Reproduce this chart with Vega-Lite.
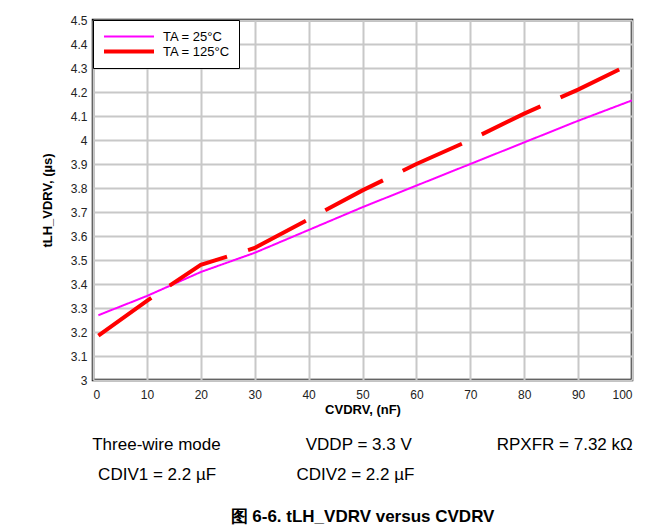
{
  "$schema": "https://vega.github.io/schema/vega-lite/v6.json",
  "width": 539,
  "height": 360,
  "autosize": "none",
  "padding": {"left": 93, "top": 20, "right": 35, "bottom": 152},
  "background": "white",
  "config": {
    "font": "Liberation Sans",
    "view": {"stroke": "black", "strokeWidth": 2.5},
    "axis": {"grid": true, "gridColor": "#c8c8c8", "gridWidth": 2, "ticks": false, "domain": false, "labelFontSize": 12, "labelColor": "#222", "titleFontSize": 13, "titleFontWeight": "bold", "titleColor": "black"}
  },
  "title": {
    "text": ["Three-wire mode\u00a0\u00a0\u00a0\u00a0\u00a0\u00a0\u00a0\u00a0\u00a0\u00a0\u00a0\u00a0\u00a0\u00a0\u00a0\u00a0\u00a0\u00a0VDDP = 3.3 V\u00a0\u00a0\u00a0\u00a0\u00a0\u00a0\u00a0\u00a0\u00a0\u00a0\u00a0\u00a0\u00a0\u00a0\u00a0\u00a0\u00a0\u00a0RPXFR = 7.32 kΩ", "\u200bCDIV1 = 2.2 µF\u00a0\u00a0\u00a0\u00a0\u00a0\u00a0\u00a0\u00a0\u00a0\u00a0\u00a0\u00a0\u00a0\u00a0\u00a0\u00a0\u00a0CDIV2 = 2.2 µF\u00a0\u00a0\u00a0\u00a0\u00a0\u00a0\u00a0\u00a0\u00a0\u00a0\u00a0\u00a0\u00a0\u00a0\u00a0\u00a0\u00a0\u00a0\u00a0\u00a0\u00a0\u00a0\u00a0\u00a0\u00a0\u00a0\u00a0\u00a0\u00a0\u00a0\u00a0\u00a0\u00a0\u00a0\u00a0\u00a0\u00a0\u00a0\u00a0\u00a0\u00a0\u00a0\u00a0\u00a0\u00a0\u200b"],
    "subtitle": "图 6-6. tLH_VDRV versus CVDRV",
    "orient": "bottom",
    "anchor": "middle",
    "font": "Liberation Sans",
    "fontSize": 17,
    "fontWeight": "normal",
    "lineHeight": 30,
    "offset": 21,
    "color": "black",
    "subtitleFont": "Liberation Sans",
    "subtitleFontSize": 17,
    "subtitleFontWeight": "bold",
    "subtitleColor": "black",
    "subtitlePadding": 25
  },
  "data": {
    "values": [
      {"c": 1, "t": 3.27, "series": "TA = 25°C"},
      {"c": 10, "t": 3.35, "series": "TA = 25°C"},
      {"c": 20, "t": 3.45, "series": "TA = 25°C"},
      {"c": 30, "t": 3.53, "series": "TA = 25°C"},
      {"c": 40, "t": 3.625, "series": "TA = 25°C"},
      {"c": 50, "t": 3.72, "series": "TA = 25°C"},
      {"c": 60, "t": 3.81, "series": "TA = 25°C"},
      {"c": 70, "t": 3.90, "series": "TA = 25°C"},
      {"c": 80, "t": 3.99, "series": "TA = 25°C"},
      {"c": 90, "t": 4.08, "series": "TA = 25°C"},
      {"c": 100, "t": 4.165, "series": "TA = 25°C"},
      {"c": 1, "t": 3.185, "series": "TA = 125°C"},
      {"c": 10, "t": 3.33, "series": "TA = 125°C"},
      {"c": 20, "t": 3.48, "series": "TA = 125°C"},
      {"c": 30, "t": 3.55, "series": "TA = 125°C"},
      {"c": 40, "t": 3.67, "series": "TA = 125°C"},
      {"c": 50, "t": 3.79, "series": "TA = 125°C"},
      {"c": 60, "t": 3.90, "series": "TA = 125°C"},
      {"c": 70, "t": 4.00, "series": "TA = 125°C"},
      {"c": 80, "t": 4.11, "series": "TA = 125°C"},
      {"c": 90, "t": 4.21, "series": "TA = 125°C"},
      {"c": 100, "t": 4.32, "series": "TA = 125°C"}
    ]
  },
  "mark": {"type": "line", "clip": true},
  "encoding": {
    "x": {"field": "c", "type": "quantitative", "scale": {"domain": [0, 100], "nice": false}, "axis": {"values": [0,10,20,30,40,50,60,70,80,90,100], "title": "CVDRV, (nF)", "titlePadding": 3, "labelPadding": 9}},
    "y": {"field": "t", "type": "quantitative", "scale": {"domain": [3, 4.5], "nice": false, "zero": false}, "axis": {"values": [3,3.1,3.2,3.3,3.4,3.5,3.6,3.7,3.8,3.9,4,4.1,4.2,4.3,4.4,4.5], "format": "~g", "title": "tLH_VDRV, (µs)", "titlePadding": 16, "labelPadding": 6}},
    "color": {"field": "series", "type": "nominal", "scale": {"domain": ["TA = 25°C", "TA = 125°C"], "range": ["#ff00ff", "#ff0000"]},
      "legend": {"title": null, "orient": "top-left", "offset": 0, "strokeColor": "black", "fillColor": "white", "padding": 9, "symbolType": "stroke", "symbolSize": 2500, "clipHeight": 15, "labelFontSize": 13, "labelColor": "black", "rowPadding": 0, "labelOffset": 7}},
    "strokeWidth": {"field": "series", "type": "nominal", "scale": {"domain": ["TA = 25°C", "TA = 125°C"], "range": [2, 4]}, "legend": {"title": null}},
    "strokeDash": {"field": "series", "type": "nominal", "scale": {"domain": ["TA = 25°C", "TA = 125°C"], "range": [[1, 0], [65, 22]]}, "legend": {"title": null}}
  }
}
